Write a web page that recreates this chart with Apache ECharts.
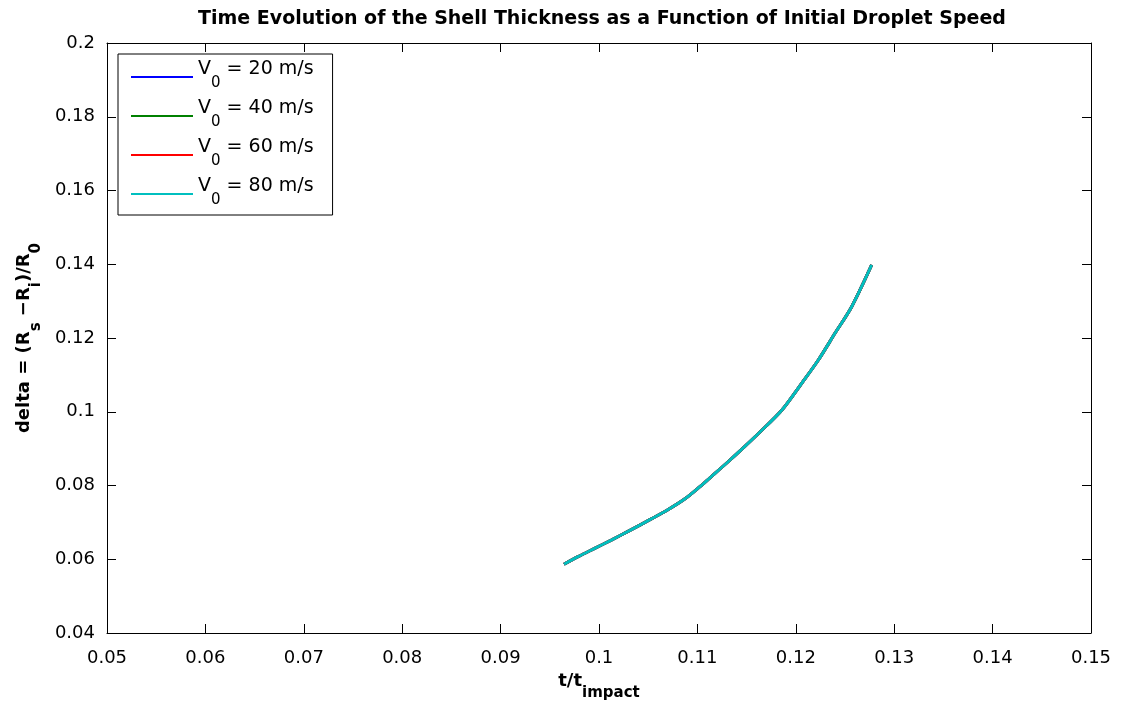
<!DOCTYPE html>
<html>
<head>
<meta charset="utf-8">
<script src="https://cdn.jsdelivr.net/npm/echarts@6/dist/echarts.min.js"></script>
<style>html,body{margin:0;padding:0;background:#fff;}#c{width:1121px;height:701px;}</style>
</head>
<body>
<div id="c"></div>
<script>
// ---- data ----
const speeds = [20, 40, 60, 80];
const seriesColors = ['#0000ff', '#008000', '#ff0000', '#00bfbf'];
// t/t_impact
const tValues = [0.09644, 0.09787, 0.09956, 0.10125, 0.10295, 0.10536, 0.10704, 0.10874, 0.11026,
                 0.11128, 0.11298, 0.11466, 0.11636, 0.11857, 0.12060, 0.12229, 0.12398, 0.12568, 0.12771];
// delta, all four speed curves coincide in the reference
const delta20 = [0.05863, 0.06069, 0.06295, 0.06520, 0.06755, 0.07100, 0.07350, 0.07640, 0.07970,
                 0.08210, 0.08610, 0.09020, 0.09450, 0.10040, 0.10772, 0.11403, 0.12127, 0.12849, 0.13980];
const delta40 = [0.05863, 0.06069, 0.06295, 0.06520, 0.06755, 0.07100, 0.07350, 0.07640, 0.07970,
                 0.08210, 0.08610, 0.09020, 0.09450, 0.10040, 0.10772, 0.11403, 0.12127, 0.12849, 0.13980];
const delta60 = [0.05863, 0.06069, 0.06295, 0.06520, 0.06755, 0.07100, 0.07350, 0.07640, 0.07970,
                 0.08210, 0.08610, 0.09020, 0.09450, 0.10040, 0.10772, 0.11403, 0.12127, 0.12849, 0.13980];
const delta80 = [0.05863, 0.06069, 0.06295, 0.06520, 0.06755, 0.07100, 0.07350, 0.07640, 0.07970,
                 0.08210, 0.08610, 0.09020, 0.09450, 0.10040, 0.10772, 0.11403, 0.12127, 0.12849, 0.13980];
const deltaSets = [delta20, delta40, delta60, delta80];
const xTicks = [0.05, 0.06, 0.07, 0.08, 0.09, 0.1, 0.11, 0.12, 0.13, 0.14, 0.15];
const yTicks = [0.04, 0.06, 0.08, 0.1, 0.12, 0.14, 0.16, 0.18, 0.2];
const titleText = 'Time Evolution of the Shell Thickness as a Function of Initial Droplet Speed';

const FONT = 'DejaVu Sans';
const fmt = v => String(+v.toFixed(4));

const names = speeds.map(s => 'V0 = ' + s + ' m/s');
const series = speeds.map((s, i) => ({
  name: names[i],
  type: 'line',
  xAxisIndex: 0, yAxisIndex: 0,
  data: tValues.map((t, k) => [t, deltaSets[i][k]]),
  showSymbol: false,
  smooth: 0.3,
  lineStyle: { color: seriesColors[i], width: 3 },
  itemStyle: { color: seriesColors[i] },
  z: 2 + i
}));

const tickStyle = { inside: true, length: 9, lineStyle: { color: '#000', width: 1 } };
const lineStyle = { lineStyle: { color: '#000', width: 1 } };

const option = {
  backgroundColor: '#fff',
  animation: false,
  title: {
    text: titleText,
    left: 597, top: 5, textAlign: 'center',
    textStyle: { fontFamily: FONT, fontSize: 19, fontWeight: 'bold', color: '#000' }
  },
  grid: { left: 107, right: 30, top: 43, bottom: 68, show: false, containLabel: false, outerBoundsMode: 'none' },
  legend: {
    orient: 'vertical',
    left: 118, top: 54,
    padding: [6, 19, 3, 13],
    itemGap: 4,
    itemWidth: 62, itemHeight: 16,
    icon: 'path://M0,0 L0,0 M0,14 L62,14 L62,16 L0,16 Z',
    backgroundColor: '#fff',
    borderColor: '#000', borderWidth: 1,
    data: names,
    formatter: n => {
      const rest = n.slice(2);
      return '{m|V}{s|0}{m|' + rest + '}';
    },
    textStyle: {
      rich: {
        m: { fontFamily: FONT, fontSize: 19, color: '#000', verticalAlign: 'top', lineHeight: 20 },
        s: { fontFamily: FONT, fontSize: 15, color: '#000', verticalAlign: 'top', lineHeight: 14, padding: [16, 0, 4, 0] }
      }
    }
  },
  xAxis: [{
    type: 'value', position: 'bottom',
    min: 0.05, max: 0.15, interval: 0.01,
    axisLine: { show: true, onZero: false, ...lineStyle },
    axisTick: tickStyle,
    splitLine: { show: false },
    axisLabel: { margin: 16, fontFamily: FONT, fontSize: 18, color: '#000', formatter: fmt },
    name: '{m|t/t}{s|impact}',
    nameLocation: 'middle', nameGap: 32,
    nameTextStyle: {
      rich: {
        m: { fontFamily: FONT, fontSize: 18, fontWeight: 'bold', color: '#000', verticalAlign: 'top', lineHeight: 20 },
        s: { fontFamily: FONT, fontSize: 15, fontWeight: 'bold', color: '#000', verticalAlign: 'top', lineHeight: 15, padding: [14, 0, 0, 0] }
      }
    }
  }, {
    type: 'value', position: 'top',
    min: 0.05, max: 0.15, interval: 0.01,
    axisLine: { show: true, onZero: false, ...lineStyle },
    axisTick: tickStyle,
    splitLine: { show: false },
    axisLabel: { show: false }
  }],
  yAxis: [{
    type: 'value', position: 'left',
    min: 0.04, max: 0.2, interval: 0.02,
    axisLine: { show: true, onZero: false, ...lineStyle },
    axisTick: tickStyle,
    splitLine: { show: false },
    axisLabel: { margin: 12, fontFamily: FONT, fontSize: 18, color: '#000', formatter: fmt },
    name: '{m|delta = (R}{s|s}{m| \u2212R}{s|i}{m|)/R}{s|0}',
    nameLocation: 'middle', nameGap: 59,
    nameTextStyle: {
      rich: {
        m: { fontFamily: FONT, fontSize: 18, fontWeight: 'bold', color: '#000', verticalAlign: 'top', lineHeight: 20 },
        s: { fontFamily: FONT, fontSize: 15, fontWeight: 'bold', color: '#000', verticalAlign: 'top', lineHeight: 15, padding: [14, 0, 0, 0] }
      }
    }
  }, {
    type: 'value', position: 'right',
    min: 0.04, max: 0.2, interval: 0.02,
    axisLine: { show: true, onZero: false, ...lineStyle },
    axisTick: tickStyle,
    splitLine: { show: false },
    axisLabel: { show: false }
  }],
  series: series
};

const chart = echarts.init(document.getElementById('c'), null, { renderer: 'canvas' });
chart.setOption(option);
</script>
</body>
</html>
